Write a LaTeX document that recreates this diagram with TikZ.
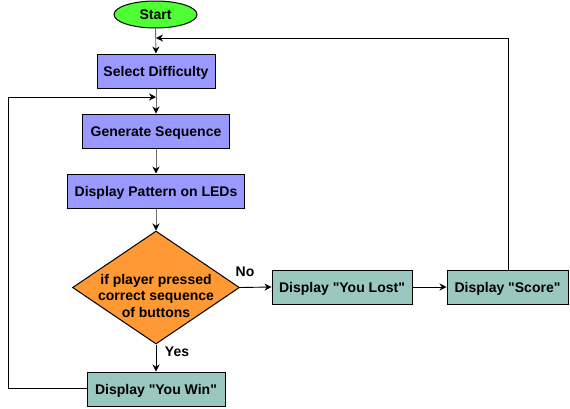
\documentclass[tikz,border=0pt]{standalone}
\usepackage{fontspec}
\setmainfont{Liberation Sans}[Ligatures=TeXOff]
\usetikzlibrary{shapes.geometric,arrows.meta}
\definecolor{startgreen}{RGB}{77,255,51}
\definecolor{procblue}{RGB}{153,153,255}
\definecolor{decorange}{RGB}{255,153,51}
\definecolor{outteal}{RGB}{154,199,191}
\definecolor{stem}{RGB}{110,110,110}
\tikzset{
  base/.style={draw=black, line width=1pt, font=\fontsize{14}{16.5}\selectfont\bfseries, inner sep=0pt, align=center},
  boxtext/.style={text height=11.5pt, text depth=1.5pt},
  proc/.style={base, boxtext, rectangle, fill=procblue, minimum height=34pt},
  outbox/.style={base, boxtext, rectangle, fill=outteal, minimum height=34pt},
  term/.style={base, boxtext, ellipse, fill=startgreen, minimum width=83pt, minimum height=27pt},
  dec/.style={base, diamond, fill=decorange, minimum width=167pt, minimum height=113pt},
  conn/.style={line width=0.9pt, -{Stealth[length=7pt,width=7pt,black]}},
  stemconn/.style={conn, draw=stem},
  lbl/.style={font=\fontsize{14}{16.5}\selectfont\bfseries, inner sep=0pt},
}
\begin{document}
\begin{tikzpicture}[x=1pt,y=-1pt]
\useasboundingbox (0,0) rectangle (570,408);
\node[term] (start) at (155.5,14.5) {Start};
\node[proc, minimum width=118pt] (sel) at (156,71) {Select Difficulty};
\node[proc, minimum width=147pt] (gen) at (156,131) {Generate Sequence};
\node[proc, minimum width=177pt] (pat) at (156,191) {Display Pattern on LEDs};
\node[dec] (dec) at (156,287.5) {};
\node[lbl, align=center] (dtext) at (156,295.5) {if player pressed\\correct sequence\\of buttons};
\node[outbox, minimum width=138pt] (win) at (156,389) {Display "You Win"};
\node[outbox, minimum width=140pt] (lost) at (342,287) {Display "You Lost"};
\node[outbox, minimum width=121pt] (score) at (507.5,287) {Display "Score"};
\coordinate (j1) at (156,38);
\coordinate (j2) at (156,97);
\coordinate (c1) at (508,38);
\coordinate (c2) at (8,388);
\coordinate (c3) at (8,97);

\draw[stemconn] (start.south) -- (sel.north);
\draw[stemconn] (sel.south) -- (gen.north);
\draw[stemconn] (gen.south) -- (pat.north);
\draw[stemconn] (pat.south) -- (dec.north);
\draw[conn] (dec.east) -- (lost.west);
\draw[conn] (dec.south) -- (win.north);
\draw[conn] (lost.east) -- (score.west);
\draw[conn] (score.north -| c1) -- (c1) -- (j1);
\draw[conn] (win.west |- c2) -- (c2) -- (c3) -- (j2);
\node[lbl] (no) at (245,271.5) {No};
\node[lbl] (yes) at (177,352) {Yes};
\end{tikzpicture}
\end{document}
